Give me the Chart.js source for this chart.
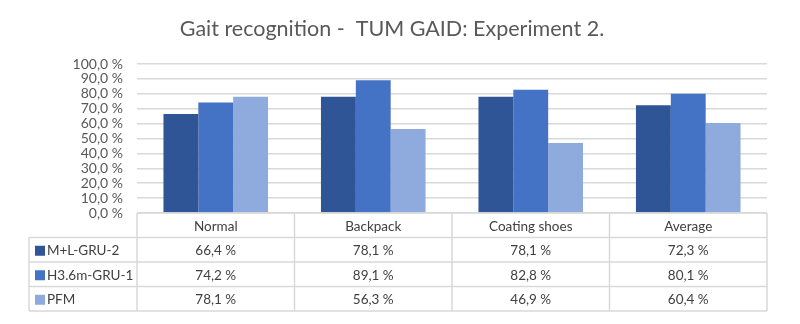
<!DOCTYPE html>
<html>
<head>
<meta charset="utf-8">
<script src="https://cdn.jsdelivr.net/npm/chart.js@4.4.1/dist/chart.umd.min.js"></script>
<style>
  html, body { margin: 0; padding: 0; background: #ffffff; }
  #wrap { width: 800px; height: 324px; position: relative; }
</style>
</head>
<body>
<div id="wrap"><canvas id="chart" width="800" height="324"></canvas></div>
<script>
// Recognition rates (%) per walking condition
const categories = ['Normal', 'Backpack', 'Coating shoes', 'Average'];
const seriesNames = ['M+L-GRU-2', 'H3.6m-GRU-1', 'PFM'];
const mlGru2 = [66.4, 78.1, 78.1, 72.3];
const h36mGru1 = [74.2, 89.1, 82.8, 80.1];
const pfm = [78.1, 56.3, 46.9, 60.4];
const seriesColors = ['#2F5597', '#4472C4', '#8FAADC'];
const chartTitle = 'Gait recognition -  TUM GAID: Experiment 2.';

const FONT = 'Lato, "Open Sans", sans-serif';
const TEXT = '#404040';
const LINE = '#d9d9d9';

const fmt = v => v.toFixed(1).replace('.', ',') + ' %';

// Title drawn centred over the whole figure
const figureTitle = {
  id: 'figureTitle',
  afterDraw(chart) {
    const ctx = chart.ctx;
    ctx.save();
    ctx.fillStyle = '#595959';
    ctx.font = '21.5px ' + FONT;
    ctx.textAlign = 'center';
    ctx.textBaseline = 'alphabetic';
    ctx.fillText(chartTitle, 392, 36);
    ctx.restore();
  }
};

// Data table under the plot: header row with categories, one row per series
const dataTable = {
  id: 'dataTable',
  afterDraw(chart) {
    const ctx = chart.ctx;
    const area = chart.chartArea;
    const xs = chart.scales.x;
    const n = categories.length;
    const colW = (area.right - area.left) / n;
    const rowH = 24.5;
    const legendLeft = 29;
    const top = area.bottom;
    const rows = chart.data.datasets.length;
    const bottom = top + rowH * (rows + 1);

    ctx.save();
    ctx.strokeStyle = LINE;
    ctx.lineWidth = 1.5;
    ctx.beginPath();
    ctx.moveTo(area.left, top); ctx.lineTo(area.right, top);
    for (let r = 1; r <= rows + 1; r++) {
      const y = top + r * rowH;
      ctx.moveTo(legendLeft, y); ctx.lineTo(area.right, y);
    }
    for (let c = 0; c <= n; c++) {
      const x = area.left + c * colW;
      ctx.moveTo(x, top); ctx.lineTo(x, bottom);
    }
    ctx.moveTo(legendLeft, top + rowH); ctx.lineTo(legendLeft, bottom);
    ctx.stroke();

    ctx.fillStyle = TEXT;
    ctx.font = '13.5px ' + FONT;
    ctx.textAlign = 'center';
    ctx.textBaseline = 'middle';
    categories.forEach((c, i) => {
      ctx.fillText(c, xs.getPixelForValue(i), top + rowH / 2 + 1);
    });
    chart.data.datasets.forEach((ds, r) => {
      const yc = top + (r + 1) * rowH + rowH / 2 + 1;
      ds.data.forEach((v, i) => {
        ctx.fillStyle = TEXT;
        ctx.textAlign = 'center';
        ctx.fillText(fmt(v), xs.getPixelForValue(i), yc);
      });
      // legend key + series name
      ctx.fillStyle = ds.backgroundColor;
      ctx.fillRect(legendLeft + 6, yc - 5, 10, 10);
      ctx.fillStyle = TEXT;
      ctx.textAlign = 'left';
      ctx.fillText(ds.label, legendLeft + 18, yc);
    });
    ctx.restore();
  }
};

new Chart(document.getElementById('chart'), {
  type: 'bar',
  data: {
    labels: categories,
    datasets: [
      { label: seriesNames[0], data: mlGru2, backgroundColor: seriesColors[0] },
      { label: seriesNames[1], data: h36mGru1, backgroundColor: seriesColors[1] },
      { label: seriesNames[2], data: pfm, backgroundColor: seriesColors[2] }
    ]
  },
  options: {
    responsive: false,
    devicePixelRatio: 1,
    animation: false,
    layout: { padding: { left: 0, right: 33, top: 64, bottom: 111 } },
    datasets: { bar: { categoryPercentage: 0.664, barPercentage: 1.0, borderWidth: 0 } },
    plugins: {
      legend: { display: false },
      tooltip: { enabled: false },
      title: { display: false }
    },
    scales: {
      x: { display: false },
      y: {
        min: 0, max: 100,
        afterFit(scale) { scale.width = 137; },
        border: { display: false },
        grid: { color: LINE, lineWidth: 1.5, drawTicks: false },
        ticks: {
          stepSize: 10,
          autoSkip: false,
          padding: 14,
          color: '#595959',
          font: { family: FONT, size: 14, lineHeight: 1 },
          callback: v => fmt(v)
        }
      }
    }
  },
  plugins: [figureTitle, dataTable]
});
</script>
</body>
</html>
